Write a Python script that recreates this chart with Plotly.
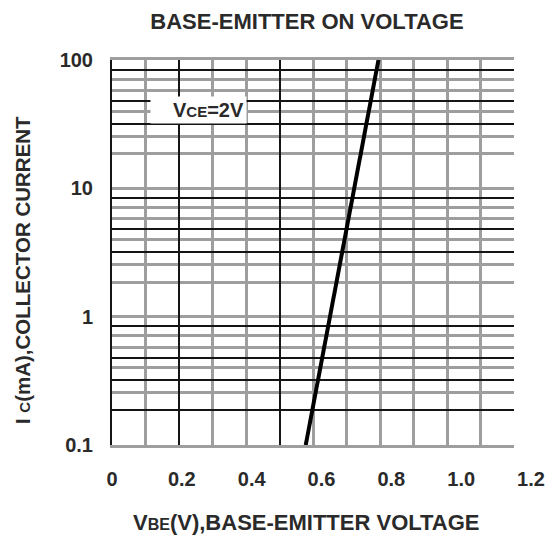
import math
import plotly.graph_objects as go

# ---- data ----
vbe = [0.578, 0.795]          # V
ic = [0.1, 100.0]             # mA

x_black_grid = [0.2, 0.5]
x_gray_grid = [0.1, 0.3, 0.4, 0.6, 0.7, 0.8, 0.9, 1.0, 1.1, 1.2]

y_black_grid = [84, 48, 32, 8.4, 4.8, 3.2, 0.84, 0.48, 0.32, 0.186]
y_gray_grid = [71, 58, 40, 25.5, 18.6, 10, 7.1, 5.8, 4.0, 2.55, 1.86, 1,
               0.71, 0.58, 0.40, 0.255]

x_tick_vals = [0, 0.2, 0.4, 0.6, 0.8, 1.0, 1.2]
x_tick_text = ["0", "0.2", "0.4", "0.6", "0.8", "1.0", "1.2"]
y_tick_vals = [0.1, 1, 10, 100]
y_tick_text = ["0.1", "1", "10", "100"]

title_text = "BASE-EMITTER ON VOLTAGE"
x_title = "V<span style='font-size:16px'>BE</span>(V),BASE-EMITTER VOLTAGE"
y_title = "I <span style='font-size:15px'>C</span>(mA),COLLECTOR CURRENT"
label_text = "V<span style='font-size:15px'>CE</span>=2V"
label_x, label_y = 0.258, 40.8

FONT = "Liberation Sans"
TXT = "#2a2a2a"
BLACK = "#151515"
GRAY = "#9e9e9e"

# page body has an 8px margin: size the figure so it fits the window exactly
OFF = 8
W, H = 557 - OFF, 538 - OFF
L, T = 112 - OFF, 60 - OFF
plot_right = 536 - OFF
plot_bottom = 445 - OFF
R, B = W - plot_right, H - plot_bottom
plot_w = W - L - R
plot_h = H - T - B
main_frac = 407 / plot_w

fig = go.Figure()

fig.add_trace(go.Scatter(x=vbe, y=ic, mode="lines",
                         line=dict(color="#000000", width=4),
                         xaxis="x", yaxis="y", showlegend=False,
                         hoverinfo="skip"))
fig.add_trace(go.Scatter(x=[x_tick_vals[0], x_tick_vals[-1]],
                         y=[y_tick_vals[0], y_tick_vals[-1]],
                         mode="markers", marker=dict(opacity=0),
                         xaxis="x2", yaxis="y2", showlegend=False,
                         hoverinfo="skip"))

fig.update_layout(
    width=W, height=H,
    margin=dict(l=L, r=R, t=T, b=B),
    paper_bgcolor="white", plot_bgcolor="rgba(0,0,0,0)",
    font=dict(family=FONT, color=TXT, size=20),
    title=dict(text="<b>%s</b>" % title_text, x=(307 - OFF) / W,
               xanchor="center", y=1 - (21 - OFF) / H, yanchor="middle",
               yref="container",
               font=dict(size=22, family=FONT, color=TXT)),
    xaxis=dict(domain=[0, main_frac], range=[0, 1.2], anchor="y",
               showticklabels=False, ticks="", zeroline=False,
               tickmode="array", tickvals=x_black_grid,
               showgrid=True, gridcolor=BLACK, gridwidth=1.5,
               minor=dict(tickmode="array", tickvals=x_gray_grid,
                          showgrid=True, gridcolor=GRAY, gridwidth=2.5,
                          ticks=""),
               showline=True, linecolor=GRAY, linewidth=2.5, mirror=True),
    yaxis=dict(type="log", range=[-1, 2], domain=[0, 1], anchor="x",
               showticklabels=False, ticks="", zeroline=False,
               tickmode="array", tickvals=y_black_grid,
               showgrid=True, gridcolor=BLACK, gridwidth=1.5,
               minor=dict(tickmode="array", tickvals=y_gray_grid,
                          showgrid=True, gridcolor=GRAY, gridwidth=2.5,
                          ticks=""),
               showline=True, linecolor=BLACK, linewidth=2, mirror=False),
    xaxis2=dict(domain=[0, 1], range=[0, 1.2], anchor="y2",
                tickmode="array", tickvals=x_tick_vals,
                ticktext=["<b>%s</b>" % t for t in x_tick_text],
                showgrid=False, zeroline=False, showline=False, ticks="",
                ticklabelstandoff=20,
                tickfont=dict(size=20, family=FONT, color=TXT)),
    yaxis2=dict(type="log", range=[-1, 2], domain=[0, 1], anchor="x2",
                tickmode="array", tickvals=y_tick_vals,
                ticktext=["<b>%s</b>" % t for t in y_tick_text],
                showgrid=False, zeroline=False, showline=False, ticks="",
                ticklabelstandoff=18,
                tickfont=dict(size=20, family=FONT, color=TXT)),
)

fig.add_annotation(text="<b>%s</b>" % label_text, x=label_x,
                   y=math.log10(label_y),
                   xref="x", yref="y", showarrow=False,
                   bgcolor="white", width=91, height=22, borderpad=2,
                   align="right", font=dict(size=20, family=FONT, color=TXT))

fig.add_annotation(text="<b>%s</b>" % x_title,
                   x=(308.5 - 112) / plot_w, y=(445 - 522) / plot_h,
                   xref="paper", yref="paper", xanchor="center",
                   yanchor="middle", showarrow=False,
                   font=dict(size=22, family=FONT, color=TXT))
fig.add_annotation(text="<b>%s</b>" % y_title,
                   x=(21 - 112) / plot_w, y=(445 - 270) / plot_h,
                   xref="paper", yref="paper", xanchor="center",
                   yanchor="middle", textangle=-90, showarrow=False,
                   font=dict(size=20.5, family=FONT, color=TXT))

fig.write_html("out.html")
